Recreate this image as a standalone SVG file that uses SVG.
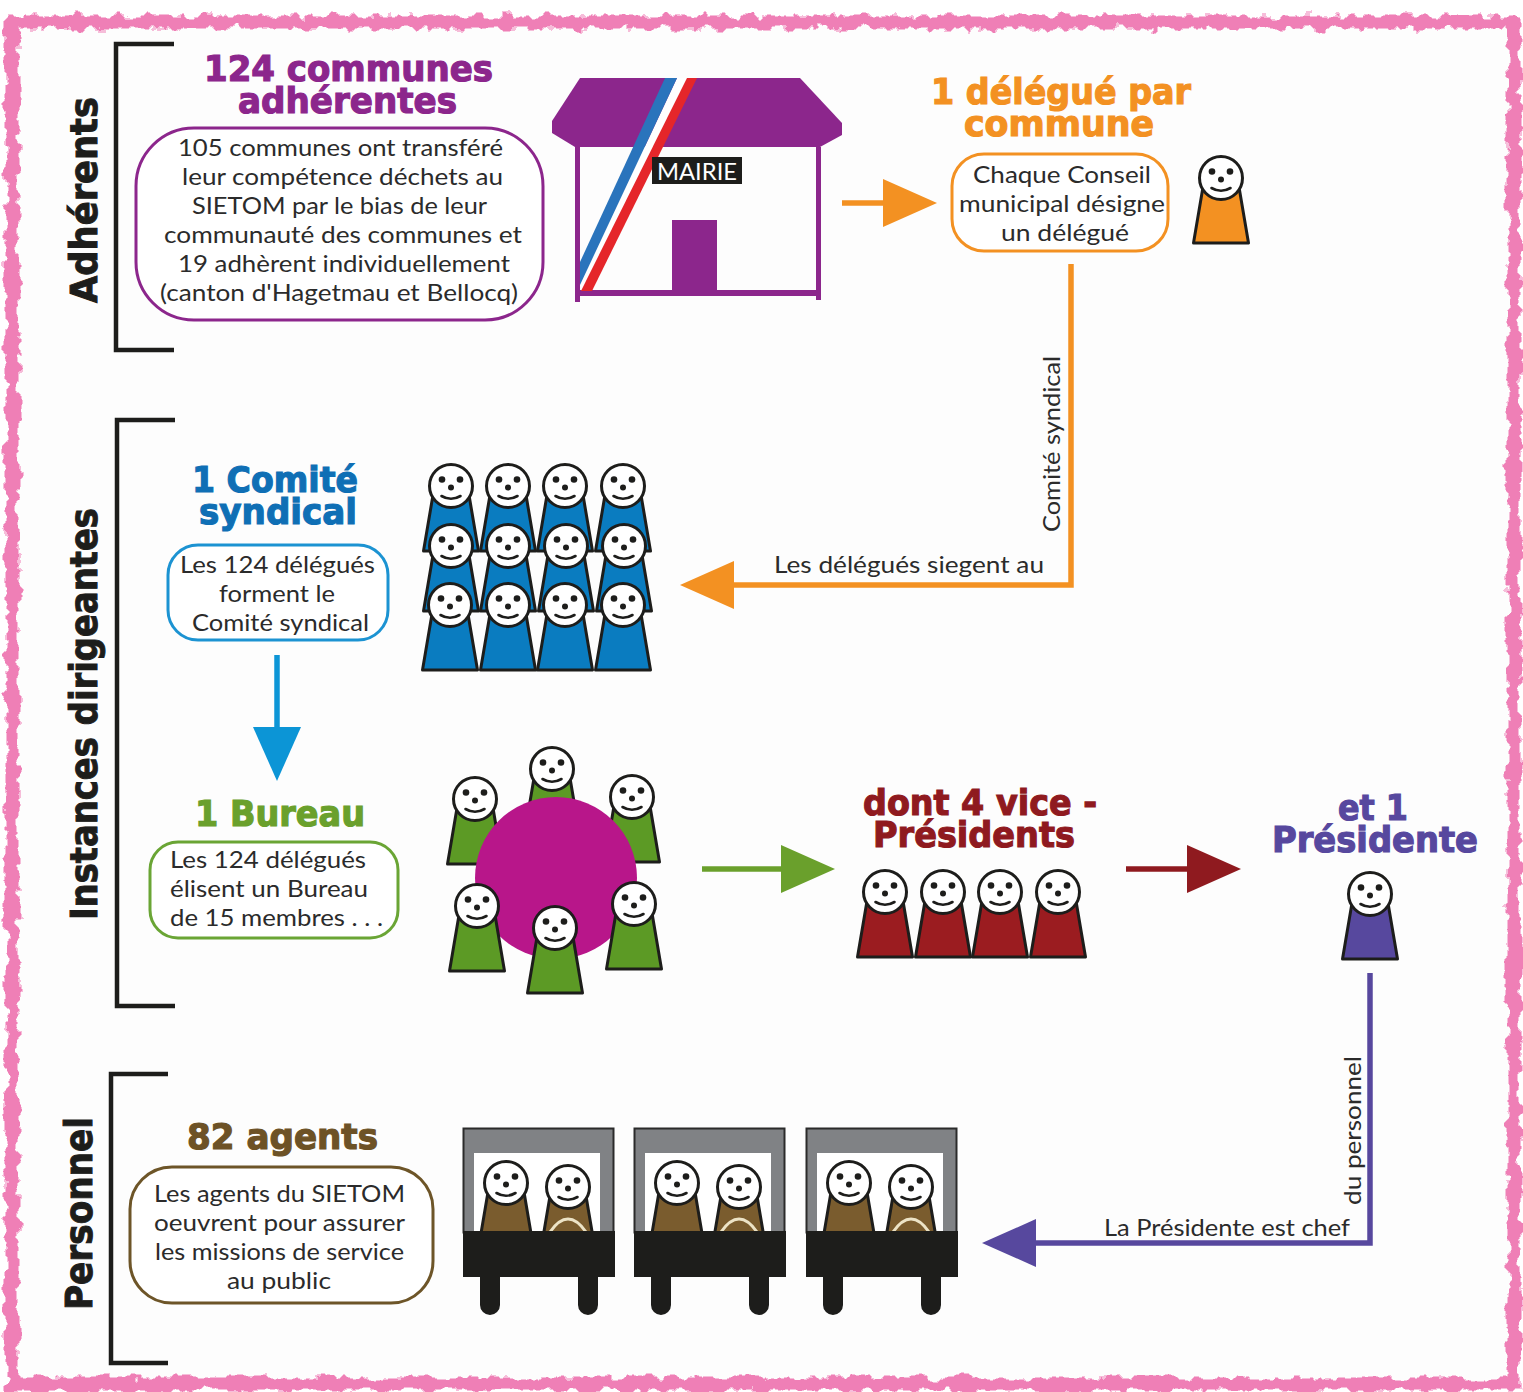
<svg xmlns="http://www.w3.org/2000/svg" width="1523" height="1392" viewBox="0 0 1523 1392">
<style>
text{font-family:"Lato","Open Sans","Liberation Sans",sans-serif;fill:#2b2b2b;font-size:24px}
.t{font-family:"DejaVu Sans","Liberation Sans",sans-serif;font-weight:bold;font-size:36px;stroke-width:1.2px}
.s{font-family:"DejaVu Sans","Liberation Sans",sans-serif;font-weight:bold;font-size:37px;fill:#1d1d1b;stroke:#1d1d1b;stroke-width:1px}
.box{fill:#fff;stroke-width:3px}
.br{fill:none;stroke:#1d1d1b;stroke-width:4.5px}
.c{fill:none;stroke-width:5.5px}
.hd{fill:#fff;stroke:#1d1d1b;stroke-width:3px}
.bd{stroke:#1d1d1b;stroke-width:3px;stroke-linejoin:round}
.f{fill:#1d1d1b}
.sm{fill:none;stroke:#1d1d1b;stroke-width:2.6px;stroke-linecap:round}
.pur{fill:#8c268c}
</style>
<defs>
<filter id="rough" filterUnits="userSpaceOnUse" x="0" y="0" width="1523" height="1392">
<feTurbulence type="fractalNoise" baseFrequency="0.07" numOctaves="3" seed="7" result="n"/>
<feDisplacementMap in="SourceGraphic" in2="n" scale="15" xChannelSelector="R" yChannelSelector="G"/>
</filter>
<symbol id="person" overflow="visible" viewBox="-30 -24 60 92" width="60" height="92" x="-30" y="-24">
<polygon class="bd" points="-18.500,12 18.500,12 27.500,65 -27.500,65"/>
<circle class="hd" r="21.500"/>
<circle class="f" cx="-9" cy="-6.500" r="3.300"/><circle class="f" cx="9" cy="-6.500" r="3.300"/><circle class="f" cy="1.500" r="3"/>
<path class="sm" d="M-9.500,10 Q0,15.500 9.500,10"/>
</symbol>
<marker id="aO" markerUnits="userSpaceOnUse" viewBox="0 0 54 48" markerWidth="54" markerHeight="48" refX="20" refY="24" orient="auto"><path d="M0,0L54,24L0,48Z" fill="#f39122"/></marker>
<marker id="aB" markerUnits="userSpaceOnUse" viewBox="0 0 54 48" markerWidth="54" markerHeight="48" refX="20" refY="24" orient="auto"><path d="M0,0L54,24L0,48Z" fill="#0c95d6"/></marker>
<marker id="aG" markerUnits="userSpaceOnUse" viewBox="0 0 54 48" markerWidth="54" markerHeight="48" refX="20" refY="24" orient="auto"><path d="M0,0L54,24L0,48Z" fill="#6aa02c"/></marker>
<marker id="aR" markerUnits="userSpaceOnUse" viewBox="0 0 54 48" markerWidth="54" markerHeight="48" refX="20" refY="24" orient="auto"><path d="M0,0L54,24L0,48Z" fill="#8f1a1f"/></marker>
<marker id="aP" markerUnits="userSpaceOnUse" viewBox="0 0 54 48" markerWidth="54" markerHeight="48" refX="20" refY="24" orient="auto"><path d="M0,0L54,24L0,48Z" fill="#57489e"/></marker>
<g id="van">
<rect x="463.500" y="1128.500" width="150" height="104" fill="#808285" stroke="#2b2b2b" stroke-width="2"/>
<rect x="474" y="1153" width="126" height="79" fill="#fff"/>
<g fill="#7a5c2e"><use href="#person" x="506" y="1183"/><use href="#person" x="568" y="1187"/></g>
<path d="M550,1232Q568,1206 586,1232" fill="none" stroke="#ece3c6" stroke-width="3"/>
<rect x="463" y="1231" width="152" height="46" fill="#1d1d1b"/>
<path d="M480,1277H500V1305A10,10 0 0 1 480,1305ZM578,1277H598V1305A10,10 0 0 1 578,1305Z" fill="#1d1d1b"/>
</g>
</defs>

<rect width="1523" height="1392" fill="#fff"/>
<g id="frame">
<rect x="12" y="22" width="1502" height="1362" fill="#fdfdfd" stroke="#ef7fb6" stroke-width="13" filter="url(#rough)"/>
</g>

<g id="connectors">
<path class="c" stroke="#f39122" d="M842,203H903" marker-end="url(#aO)"/>
<path class="c" stroke="#f39122" d="M1071,264V585H714" marker-end="url(#aO)"/>
<path class="c" stroke="#0c95d6" d="M277,655V747" marker-end="url(#aB)"/>
<path class="c" stroke="#6aa02c" d="M702,869H801" marker-end="url(#aG)"/>
<path class="c" stroke="#8f1a1f" d="M1126,869H1207" marker-end="url(#aR)"/>
<path class="c" stroke="#57489e" d="M1370,973V1243H1016" marker-end="url(#aP)"/>
<text x="1060" y="532" transform="rotate(-90 1060 532)" textLength="176" lengthAdjust="spacingAndGlyphs">Comité syndical</text>
<text x="774" y="573" textLength="270" lengthAdjust="spacingAndGlyphs">Les délégués siegent au</text>
<text x="1361" y="1205" transform="rotate(-90 1361 1205)" textLength="149" lengthAdjust="spacingAndGlyphs">du personnel</text>
<text x="1104" y="1236" textLength="246" lengthAdjust="spacingAndGlyphs">La Présidente est chef</text>
</g>

<g id="section-adherents">
<path class="br" d="M174,44H116V350H174"/>
<text class="s" x="97" y="303" transform="rotate(-90 97 303)" textLength="206" lengthAdjust="spacingAndGlyphs">Adhérents</text>
</g>
<g id="section-instances">
<path class="br" d="M175,420H117V1006H175"/>
<text class="s" x="97" y="920" transform="rotate(-90 97 920)" textLength="412" lengthAdjust="spacingAndGlyphs">Instances dirigeantes</text>
</g>
<g id="section-personnel">
<path class="br" d="M168,1074H111V1363H168"/>
<text class="s" x="92" y="1310" transform="rotate(-90 92 1310)" textLength="193" lengthAdjust="spacingAndGlyphs">Personnel</text>
</g>

<g id="node-communes">
<text class="t" style="fill:#8c268c;stroke:#8c268c" x="204" y="81" textLength="289" lengthAdjust="spacingAndGlyphs">124 communes</text>
<text class="t" style="fill:#8c268c;stroke:#8c268c" x="238" y="113" textLength="219" lengthAdjust="spacingAndGlyphs">adhérentes</text>
<rect class="box" x="136" y="128" width="407" height="192" rx="58" stroke="#8c268c"/>
<text x="178" y="156" textLength="325" lengthAdjust="spacingAndGlyphs">105 communes ont transféré</text>
<text x="182" y="185" textLength="321" lengthAdjust="spacingAndGlyphs">leur compétence déchets au</text>
<text x="192" y="214" textLength="295" lengthAdjust="spacingAndGlyphs">SIETOM par le bias de leur</text>
<text x="164" y="243" textLength="358" lengthAdjust="spacingAndGlyphs">communauté des communes et</text>
<text x="178" y="272" textLength="332" lengthAdjust="spacingAndGlyphs">19 adhèrent individuellement</text>
<text x="160" y="301" textLength="358" lengthAdjust="spacingAndGlyphs">(canton d'Hagetmau et Bellocq)</text>
</g>

<g id="node-mairie">
<polygon class="pur" points="580,78 800,78 842,123 842,135 820,147 575,147 552,133 552,121"/>
<rect class="pur" x="575" y="147" width="5" height="155"/>
<rect class="pur" x="816" y="147" width="5" height="153"/>
<rect class="pur" x="577" y="290" width="242" height="6"/>
<rect class="pur" x="672" y="220" width="45" height="72"/>
<polygon fill="#fff" points="677,78 688,78 582,291 580,285"/>
<polygon fill="#2a74bc" points="665,78 677,78 580,285 580,262"/>
<polygon fill="#e5262a" points="687,78 697,78 592,291 581,291"/>
<rect x="652" y="157" width="90" height="27" fill="#1d1d1b"/>
<text x="657" y="180" style="fill:#fff;font-size:23px" textLength="80" lengthAdjust="spacingAndGlyphs">MAIRIE</text>
</g>

<g id="node-delegue">
<text class="t" style="fill:#f39122;stroke:#f39122" x="931" y="104" textLength="260" lengthAdjust="spacingAndGlyphs">1 délégué par</text>
<text class="t" style="fill:#f39122;stroke:#f39122" x="964" y="136" textLength="190" lengthAdjust="spacingAndGlyphs">commune</text>
<rect class="box" x="952" y="154" width="216" height="97" rx="32" stroke="#f39122"/>
<text x="973" y="183" textLength="178" lengthAdjust="spacingAndGlyphs">Chaque Conseil</text>
<text x="959" y="212" textLength="206" lengthAdjust="spacingAndGlyphs">municipal désigne</text>
<text x="1001" y="241" textLength="128" lengthAdjust="spacingAndGlyphs">un délégué</text>
<use href="#person" x="1221" y="178" fill="#f39122"/>
</g>

<g id="node-comite">
<text class="t" style="fill:#0f6fb5;stroke:#0f6fb5" x="192" y="492" textLength="166" lengthAdjust="spacingAndGlyphs">1 Comité</text>
<text class="t" style="fill:#0f6fb5;stroke:#0f6fb5" x="199" y="524" textLength="158" lengthAdjust="spacingAndGlyphs">syndical</text>
<rect class="box" x="168" y="545" width="220" height="95" rx="30" stroke="#1c93d2"/>
<text x="180" y="573" textLength="195" lengthAdjust="spacingAndGlyphs">Les 124 délégués</text>
<text x="219" y="602" textLength="116" lengthAdjust="spacingAndGlyphs">forment le</text>
<text x="192" y="631" textLength="177" lengthAdjust="spacingAndGlyphs">Comité syndical</text>
</g>
<g id="node-comite-people" fill="#0a7cc0">
<use href="#person" x="451" y="486"/><use href="#person" x="508" y="486"/><use href="#person" x="565" y="486"/><use href="#person" x="623" y="486"/>
<use href="#person" x="451" y="546"/><use href="#person" x="508" y="546"/><use href="#person" x="566" y="546"/><use href="#person" x="624" y="546"/>
<use href="#person" x="450" y="605"/><use href="#person" x="508" y="605"/><use href="#person" x="565" y="605"/><use href="#person" x="623" y="605"/>
</g>

<g id="node-bureau">
<text class="t" style="fill:#6aa02c;stroke:#6aa02c" x="195" y="826" textLength="170" lengthAdjust="spacingAndGlyphs">1 Bureau</text>
<rect class="box" x="150" y="842" width="248" height="96" rx="28" stroke="#6aa535"/>
<text x="170" y="868" textLength="196" lengthAdjust="spacingAndGlyphs">Les 124 délégués</text>
<text x="170" y="897" textLength="198" lengthAdjust="spacingAndGlyphs">élisent un Bureau</text>
<text x="170" y="926" textLength="213" lengthAdjust="spacingAndGlyphs">de 15 membres . . .</text>
</g>
<g id="node-bureau-table" fill="#5c9a25">
<use href="#person" x="475" y="799"/><use href="#person" x="552" y="769"/><use href="#person" x="632" y="797"/>
<circle cx="556" cy="878" r="81" fill="#b8168a"/>
<use href="#person" x="477" y="906"/><use href="#person" x="634" y="904"/><use href="#person" x="555" y="928"/>
</g>

<g id="node-vice">
<text class="t" style="fill:#8f1a1f;stroke:#8f1a1f" x="863" y="815" textLength="234" lengthAdjust="spacingAndGlyphs">dont 4 vice -</text>
<text class="t" style="fill:#8f1a1f;stroke:#8f1a1f" x="873" y="847" textLength="202" lengthAdjust="spacingAndGlyphs">Présidents</text>
<g fill="#9b1c20"><use href="#person" x="885" y="892"/><use href="#person" x="943" y="892"/><use href="#person" x="1000" y="892"/><use href="#person" x="1058" y="892"/></g>
</g>

<g id="node-presidente">
<text class="t" style="fill:#57489e;stroke:#57489e" x="1338" y="820" textLength="70" lengthAdjust="spacingAndGlyphs">et 1</text>
<text class="t" style="fill:#57489e;stroke:#57489e" x="1272" y="852" textLength="206" lengthAdjust="spacingAndGlyphs">Présidente</text>
<use href="#person" x="1370" y="894" fill="#57489e"/>
</g>

<g id="node-agents">
<text class="t" style="fill:#6d5226;stroke:#6d5226" x="187" y="1149" textLength="191" lengthAdjust="spacingAndGlyphs">82 agents</text>
<rect class="box" x="130" y="1167" width="303" height="136" rx="42" stroke="#6d5528"/>
<text x="154" y="1202" textLength="251" lengthAdjust="spacingAndGlyphs">Les agents du SIETOM</text>
<text x="154" y="1231" textLength="251" lengthAdjust="spacingAndGlyphs">oeuvrent pour assurer</text>
<text x="155" y="1260" textLength="249" lengthAdjust="spacingAndGlyphs">les missions de service</text>
<text x="227" y="1289" textLength="104" lengthAdjust="spacingAndGlyphs">au public</text>
</g>
<g id="node-vans">
<use href="#van"/><use href="#van" x="171"/><use href="#van" x="343"/>
</g>
</svg>
